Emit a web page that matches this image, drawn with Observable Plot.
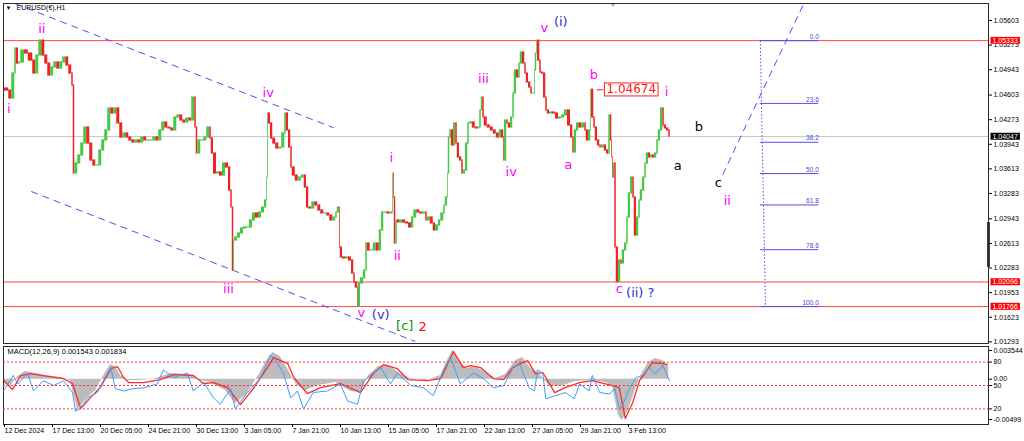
<!DOCTYPE html>
<html><head><meta charset="utf-8">
<script src="https://cdn.jsdelivr.net/npm/d3@7"></script>
<script src="https://cdn.jsdelivr.net/npm/@observablehq/plot@0.6"></script>
<style>
body{margin:0;background:#fff;}
#wrap{position:relative;width:1024px;height:441px;overflow:hidden;background:#fff;}
#wrap svg{position:absolute;left:0;}
</style></head><body><div id="wrap"></div>
<script>
// ---------- DATA ----------
const symbolTitle = "EURUSD(€),H1";
const macdTitle = "MACD(12,26,9) 0.001543 0.001834";
// time axis (hours since first bar)
const timeTickHours = [0,64,128,192,256,320,384,448,512,576,640,704,768,832];
const timeTickLabels = ["12 Dec 2024","17 Dec 13:00","20 Dec 05:00","24 Dec 21:00","30 Dec 13:00","3 Jan 05:00","7 Jan 21:00","10 Jan 13:00","15 Jan 05:00","17 Jan 21:00","22 Jan 13:00","27 Jan 05:00","29 Jan 21:00","3 Feb 13:00"];
const priceTicks = [1.05603,1.05273,1.04943,1.04603,1.04273,1.03943,1.03613,1.03283,1.02943,1.02613,1.02283,1.01953,1.01623,1.01293];

// price path: hours and closes
const hours = [
 1,7,11,15,17,20,23,28,33,39,
 43,47,51,55,59,63,67,71,75,79,
 83,87,91,93,95,99,103,107,111,115,
 119,123,127,131,135,139,143,147,151,155,
 159,163,167,171,175,179,183,187,191,195,
 199,203,207,211,215,219,223,227,231,235,
 239,243,247,251,255,257,259,263,267,271,
 275,277,280,284,288,292,296,300,303,305,
 307,308,312,316,320,324,328,332,336,340,
 344,348,351,352,353,356,359,363,367,371,
 375,377,380,383,385,389,393,397,401,404,
 407,411,415,419,423,427,431,435,439,443,
 445,448,449,452,456,460,464,467,469,472,
 473,476,480,483,485,489,493,497,501,504,
 507,511,515,519,520,521,523,525,528,532,
 536,540,544,547,551,555,559,563,565,569,
 573,576,580,583,587,589,592,593,595,597,
 600,603,605,608,611,613,616,619,621,625,
 629,632,635,637,639,641,645,649,653,657,
 661,664,667,668,671,673,676,679,681,684,
 687,689,692,695,697,700,703,705,708,709,
 711,712,715,717,720,723,725,728,732,736,
 740,744,748,752,756,759,761,764,767,771,
 775,777,780,783,784,787,789,792,795,797,
 801,804,807,809,811,812,813,815,817,820,
 823,825,828,831,833,836,839,841,844,847,
 849,852,855,857,860,863,865,868,871,873,
 876,879,881,884,887,889];
const closes = [
 1.04691,1.04664,1.04557,1.04892,1.05227,1.05026,1.05040,1.05201,1.05160,1.05066,
 1.04892,1.05133,1.05333,1.05133,1.05026,1.04865,1.04973,1.05040,1.04959,1.05040,
 1.05107,1.04999,1.04892,1.04731,1.03551,1.03685,1.03792,1.03953,1.04168,1.03953,
 1.03725,1.03658,1.03658,1.03860,1.03994,1.04128,1.04423,1.04356,1.04423,1.04222,
 1.04034,1.04088,1.04034,1.03994,1.03967,1.03994,1.03967,1.04034,1.03994,1.03994,
 1.03994,1.04034,1.03994,1.04128,1.04235,1.04168,1.04155,1.04128,1.04302,1.04329,
 1.04262,1.04235,1.04289,1.04262,1.04570,1.04168,1.03819,1.03994,1.03994,1.04034,
 1.04168,1.04020,1.03819,1.03551,1.03565,1.03524,1.03685,1.03632,1.03323,1.03095,
 1.02250,1.02653,1.02693,1.02747,1.02814,1.02827,1.02827,1.02921,1.03015,1.02961,
 1.03028,1.03095,1.03189,1.03497,1.04356,1.04222,1.04020,1.03953,1.03886,1.03900,
 1.04088,1.04356,1.04128,1.03900,1.03632,1.03524,1.03457,1.03497,1.03524,1.03363,
 1.03095,1.03082,1.03162,1.03122,1.03055,1.03015,1.03015,1.02988,1.02921,1.02961,
 1.03028,1.03095,1.02559,1.02425,1.02411,1.02425,1.02384,1.02210,1.02089,1.02022,
 1.01766,1.02076,1.02143,1.02250,1.02612,1.02519,1.02519,1.02612,1.02519,1.02787,
 1.03028,1.03028,1.03015,1.03028,1.03551,1.03229,1.02612,1.02921,1.02894,1.02921,
 1.02894,1.02881,1.02827,1.02961,1.03055,1.03028,1.03015,1.03028,1.02921,1.02961,
 1.02881,1.02787,1.02854,1.02921,1.03015,1.03122,1.03229,1.03551,1.04034,1.04128,
 1.03927,1.04222,1.03953,1.03766,1.03725,1.03551,1.03591,1.03953,1.04222,1.04235,
 1.04168,1.04155,1.04168,1.04396,1.04570,1.04302,1.04195,1.04168,1.04128,1.04088,
 1.04034,1.04128,1.04034,1.03725,1.04262,1.04222,1.04168,1.04302,1.04624,1.04932,
 1.04838,1.05026,1.05174,1.05026,1.04892,1.04771,1.04704,1.04624,1.04624,1.04932,
 1.05160,1.05333,1.05066,1.04905,1.04892,1.04570,1.04396,1.04356,1.04369,1.04356,
 1.04289,1.04302,1.04329,1.04396,1.04195,1.04034,1.03833,1.04128,1.04222,1.04168,
 1.04222,1.04128,1.03994,1.04128,1.04674,1.04302,1.04168,1.03994,1.03927,1.03900,
 1.03927,1.03860,1.03819,1.04329,1.03994,1.03766,1.03497,1.03685,1.02559,1.02096,
 1.02384,1.02344,1.02519,1.02612,1.02961,1.03283,1.03497,1.03229,1.02720,1.02961,
 1.03189,1.03323,1.03497,1.03685,1.03819,1.03766,1.03792,1.03766,1.03819,1.03994,
 1.04128,1.04423,1.04195,1.04155,1.04128,1.04047];

// horizontal levels
const redLevels = [1.05333,1.02096,1.01766];
const currentPrice = 1.04047;
const priceBoxes = [
  {p:1.05333, bg:"#ff0000"},
  {p:1.04047, bg:"#000000"},
  {p:1.02096, bg:"#ff0000"},
  {p:1.01766, bg:"#ff0000"}
];
// trend lines
const trendLines = [
  {h1:16, p1:1.05827, h2:440, p2:1.04164},
  {h1:37, p1:1.03310, h2:549, p2:1.01298},
  {h1:959, p1:1.03538, h2:1069, p2:1.05871}
];
// fibonacci retracement
const fibLevels = [0.0,23.6,38.2,50.0,61.8,78.6,100.0];
const fibPrices = [1.05333,1.04491,1.03970,1.03550,1.03129,1.02529,1.01766];
const fibStartH = 1009, fibEndH = 1087, fibBottomH = 1016;

// wave labels
const labelText  = ["ii","i","iv","iii","i","ii","v","(v)","[c]","2","iii","iv","v","(i)","b","i","a","b","a","c","ii","c","(ii) ?"];
const labelHour  = [51,7,353,300,517,525,477,503,535,559,640,677,721,743,787,884,753,927,899,953,965,821,849];
const labelPrice = [1.05496,1.04423,1.04637,1.02009,1.03766,1.02452,1.01687,1.01660,1.01513,1.01499,1.04825,1.03578,1.05509,1.05589,1.04879,1.04651,1.03672,1.04181,1.03658,1.03430,1.03189,1.02009,1.01955];
const labelColor = ["#ff00ff","#ff00ff","#ff00ff","#ff00ff","#ff00ff","#ff00ff","#ff00ff","#2f2fd6","#109010","#ff0000","#ff00ff","#ff00ff","#ff00ff","#2f2fd6","#ff00ff","#ff00ff","#ff00ff","#000000","#000000","#000000","#ff00ff","#ff00ff","#2f2fd6"];
const markPrice = {text:"1.04674", h:837, p:1.04683, fromH:791, toH:800, level:1.04674};

// MACD main (histogram)
const macdHours = [0,9,19,29,43,56,76,89,99,109,123,136,143,149,156,167,183,203,223,249,263,276,296,309,323,340,351,359,369,380,391,403,420,443,463,476,487,500,513,529,543,563,583,593,599,607,617,629,643,656,669,683,692,703,713,727,743,763,783,803,812,820,825,833,843,852,860,869,879,887];
const macdMain = [-0.00042,-0.00092,0.00032,0.00094,0.00069,0.00045,0.00020,-0.00017,-0.00388,-0.00265,
 -0.00141,0.00082,0.00181,0.00156,0.00045,-0.00017,-0.00017,0.00007,0.00069,0.00057,
 -0.00017,-0.00042,-0.00141,-0.00302,-0.00203,0.00045,0.00230,0.00329,0.00280,0.00106,
 -0.00079,-0.00141,-0.00079,-0.00042,-0.00153,-0.00166,0.00045,0.00156,0.00168,0.00069,
 0.00007,-0.00017,0.00045,0.00255,0.00354,0.00230,0.00131,0.00156,0.00082,0.00007,
 0.00057,0.00230,0.00267,0.00131,0.00082,-0.00079,-0.00092,-0.00030,-0.00017,-0.00042,
 -0.00092,-0.00450,-0.00512,-0.00388,-0.00116,0.00082,0.00205,0.00255,0.00230,0.00154];
// MACD signal
const signalHours = [0,12,23,36,53,80,92,103,116,129,143,152,160,167,187,209,227,253,267,280,299,316,333,352,360,379,387,405,423,449,476,493,507,525,539,565,583,600,613,623,636,653,667,679,692,699,709,719,735,749,768,785,812,821,829,839,848,856,865,879,885];
const signalVals = [-0.00017,-0.00129,0.00045,0.00069,0.00045,0.00007,-0.00054,-0.00364,-0.00228,-0.00104,
 0.00131,0.00156,0.00020,-0.00042,-0.00042,-0.00005,0.00057,0.00045,-0.00054,-0.00042,
 -0.00104,-0.00314,-0.00116,0.00143,0.00267,0.00193,0.00020,-0.00178,-0.00104,-0.00054,
 -0.00166,0.00069,0.00181,0.00131,-0.00005,-0.00017,0.00007,0.00341,0.00143,0.00168,
 0.00143,0.00007,-0.00005,0.00143,0.00205,0.00230,0.00069,0.00082,-0.00166,-0.00104,
 -0.00042,-0.00017,-0.00079,-0.00104,-0.00487,-0.00289,-0.00017,0.00082,0.00205,0.00193,0.00183];
const macdTicks = [0.003544,0,-0.00499];
const macdTickLabels = ["0.003544","0.00","-0.00499"];
// oscillator (0-100) drawn in the same window
const oscHours = [0,13,19,32,40,53,67,80,92,96,103,112,125,133,143,149,160,173,187,205,213,227,245,253,267,280,289,303,309,325,343,356,365,373,383,392,400,413,432,449,459,472,480,489,503,516,525,543,560,573,587,596,609,627,640,653,667,676,679,688,701,708,712,719,723,736,749,761,768,781,785,795,808,815,821,825,835,843,852,861,869,879,888];
const oscVals = [43,63,52,66,43,56,50,56,41,17, 21,34,41,56,73,46,43,46,47,52, 70,60,66,43,54,34,26,46,20,41, 60,89,79,66,34,43,20,41,43,52, 30,26,56,63,73,52,66,50,47,37, 70,86,52,66,59,47,50,66,73,78, 47,43,70,66,33,37,41,33,52,43, 63,41,39,46,21,24,47,60,63,73, 65,76,56];
const oscLevels = [20,50,80];

// ---------- BUILD ----------
const X_DOMAIN = [0, 1313.3];
const Y_DOMAIN = [1.01271, 1.05831];
const FONT = "Liberation Sans, Arial, sans-serif";
const LABEL_FONT = "DejaVu Sans, Verdana, sans-serif";

const n = Math.min(hours.length, closes.length);
const candles = [];
for (let i = 1; i < n; i++) {
  const o = closes[i-1], c = closes[i];
  candles.push({x1: hours[i-1], x2: hours[i], lo: Math.min(o, c) - 0.00008, hi: Math.max(o, c) + 0.00008, col: c >= o ? "#45c945" : "#ee2424"});
}
const labels = labelText.map((t, i) => ({t, h: labelHour[i], p: labelPrice[i], c: labelColor[i]}));
const fib = fibLevels.map((f, i) => ({f, p: fibPrices[i]}));
const macdData = macdHours.map((h, i) => ({h, v: macdMain[i]})).filter(d => d.v !== undefined);
const sigData = signalHours.map((h, i) => ({h, v: signalVals[i]})).filter(d => d.v !== undefined);
const oscData = oscHours.map((h, i) => ({h, v: oscVals[i]})).filter(d => d.v !== undefined);
const timeLabelMap = new Map(timeTickHours.map((h, i) => [h, timeTickLabels[i]]));
const macdLabelMap = new Map(macdTicks.map((v, i) => [v, macdTickLabels[i]]));

const wrap = document.getElementById("wrap");

const main = Plot.plot({
  width: 1024, height: 346,
  marginLeft: 3, marginRight: 36, marginTop: 3, marginBottom: 3,
  x: {domain: X_DOMAIN, axis: null},
  y: {domain: Y_DOMAIN, axis: null},
  color: {type: "identity"},
  style: {background: "transparent", fontFamily: FONT, fontSize: "7px", overflow: "visible", color: "#000"},
  marks: [
    Plot.ruleY([currentPrice], {stroke: "#c8c8c8"}),
    Plot.ruleY(redLevels, {stroke: "#ff4646"}),
    Plot.link(trendLines, {x1: "h1", y1: "p1", x2: "h2", y2: "p2", stroke: "#4f4ff2", strokeDasharray: "7,5", clip: true}),
    Plot.link([fib[0]], {x1: fibStartH, y1: fibPrices[0], x2: fibBottomH, y2: fibPrices[fibPrices.length-1], stroke: "#4f4ff2", strokeDasharray: "1.5,2"}),
    Plot.ruleY(fib, {y: "p", x1: fibStartH, x2: fibEndH, stroke: "#4f4ff2"}),
    Plot.text(fib, {x: fibEndH, y: "p", text: d => d.f.toFixed(1), textAnchor: "end", dy: -4, fill: "#4646d0", fontSize: 6.5}),
    Plot.rect(candles, {x1: "x1", x2: "x2", y1: "lo", y2: "hi", fill: "col"}),
    Plot.link([markPrice], {x1: "fromH", x2: "toH", y1: "level", y2: "level", stroke: "#ff2020"}),
    Plot.text([markPrice], {x: "h", y: "p", text: "text", fill: "#ff1a1a", fontSize: 12, fontFamily: LABEL_FONT, className: "markbox"}),
    Plot.text(labels, {x: "h", y: "p", text: "t", fill: "c", fontSize: 13, fontFamily: LABEL_FONT}),
    Plot.text([symbolTitle], {frameAnchor: "top-left", dx: 13, dy: 2, fontSize: 7, fill: "#000"}),
    Plot.text(["▼"], {frameAnchor: "top-left", dx: 2, dy: 2, fontSize: 6, fill: "#000"}),
    Plot.text(["▼"], {frameAnchor: "top-left", dx: 606, dy: -1, fontSize: 7, fill: "#999"}),
    Plot.ruleX([X_DOMAIN[1]], {y1: 1.02894, y2: 1.02290, stroke: "#000", strokeWidth: 2.5}),
    Plot.frame({stroke: "#2a2a2a"}),
    Plot.axisY({anchor: "right", ticks: priceTicks, tickFormat: d => d.toFixed(5), tickSize: 3, tickPadding: 2, label: null, fontSize: 7}),
    Plot.text(priceBoxes, {x: X_DOMAIN[1], y: "p", text: d => d.p.toFixed(5), textAnchor: "start", dx: 4, fill: "#fff", fontSize: 7, className: "pbox"})
  ]
});
main.style.top = "0px";
wrap.appendChild(main);

// boxes behind price labels
const svgNS = "http://www.w3.org/2000/svg";
d3.select(main).selectAll("g.pbox text").each(function(d, i) {
  const b = this.getBBox();
  const r = document.createElementNS(svgNS, "rect");
  r.setAttribute("x", b.x - 2); r.setAttribute("y", b.y);
  r.setAttribute("width", b.width + 4); r.setAttribute("height", b.height);
  const tr = this.getAttribute("transform"); if (tr) r.setAttribute("transform", tr);
  r.setAttribute("fill", priceBoxes[i] ? priceBoxes[i].bg : "#f00");
  this.parentNode.insertBefore(r, this);
});
d3.select(main).selectAll("g.markbox text").each(function() {
  const b = this.getBBox();
  const r = document.createElementNS(svgNS, "rect");
  r.setAttribute("x", b.x - 2); r.setAttribute("y", b.y + 1);
  r.setAttribute("width", b.width + 4); r.setAttribute("height", b.height - 1);
  const tr = this.getAttribute("transform"); if (tr) r.setAttribute("transform", tr);
  r.setAttribute("fill", "#fff"); r.setAttribute("stroke", "#ff2020");
  this.parentNode.insertBefore(r, this);
});

const macdPlot = Plot.plot({
  width: 1024, height: 98,
  marginLeft: 3, marginRight: 36, marginTop: 3, marginBottom: 17,
  x: {domain: X_DOMAIN, axis: null},
  y: {domain: [-0.00561, 0.00404], axis: null},
  style: {background: "transparent", fontFamily: FONT, fontSize: "7px", overflow: "visible", color: "#000"},
  marks: [
    Plot.areaY(macdData, {x: "h", y1: 0, y2: "v", fill: "#bcbcbc"}),
    Plot.line(sigData, {x: "h", y: "v", stroke: "#ff2a2a", strokeWidth: 1.3}),
    Plot.frame({stroke: "#2a2a2a"}),
    Plot.axisY({anchor: "right", ticks: macdTicks, tickFormat: d => macdLabelMap.get(d), tickSize: 3, tickPadding: 2, label: null, fontSize: 7}),
    Plot.axisX({anchor: "bottom", ticks: timeTickHours, tickFormat: d => timeLabelMap.get(d), tickSize: 3, tickPadding: 1, textAnchor: "start", dx: 1, label: null, fontSize: 7}),
    Plot.text([macdTitle], {frameAnchor: "top-left", dx: 4, dy: 2, fontSize: 7.5, fill: "#000"})
  ]
});
macdPlot.style.top = "343px";
wrap.appendChild(macdPlot);

const oscPlot = Plot.plot({
  width: 1024, height: 98,
  marginLeft: 3, marginRight: 36, marginTop: 3, marginBottom: 17,
  x: {domain: X_DOMAIN, axis: null},
  y: {domain: [0, 100], axis: null},
  style: {background: "transparent", fontFamily: FONT, fontSize: "7px", overflow: "visible", color: "#000"},
  marks: [
    Plot.ruleY(oscLevels, {stroke: "#ff3030", strokeDasharray: "2,2"}),
    Plot.line(oscData, {x: "h", y: "v", stroke: "#3f9bff", strokeWidth: 1}),
    Plot.axisY({anchor: "right", ticks: oscLevels, tickSize: 3, tickPadding: 2, label: null, fontSize: 7})
  ]
});
oscPlot.style.top = "343px";
wrap.appendChild(oscPlot);
</script></body></html>
